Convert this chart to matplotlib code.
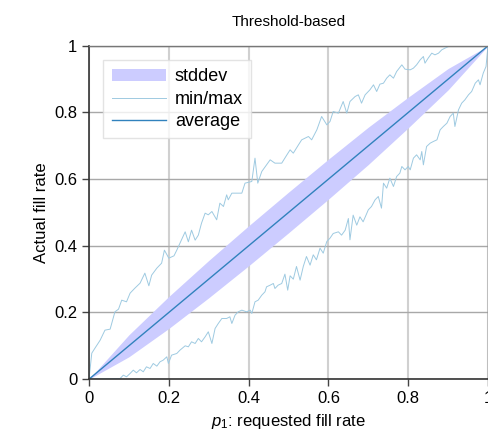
import numpy as np
import matplotlib.pyplot as plt

plt.rcParams['font.family'] = ['Liberation Sans', 'DejaVu Sans']
plt.rcParams['mathtext.fontset'] = 'custom'
plt.rcParams['mathtext.it'] = 'Liberation Sans:italic'
plt.rcParams['mathtext.rm'] = 'Liberation Sans'

# max curve
max_x = [0, 0.007, 0.015, 0.028, 0.04, 0.053, 0.065, 0.074, 0.082, 0.094, 0.103, 0.115,
         0.128, 0.14, 0.15, 0.157, 0.17, 0.182, 0.189, 0.2, 0.213, 0.22, 0.241, 0.249,
         0.257, 0.266, 0.274, 0.282, 0.291, 0.299, 0.308, 0.32, 0.328, 0.337, 0.345,
         0.349, 0.358, 0.383, 0.391, 0.408, 0.416, 0.423, 0.433, 0.454, 0.466, 0.483,
         0.496, 0.504, 0.512, 0.525, 0.533, 0.55, 0.558, 0.571, 0.583, 0.596, 0.604,
         0.612, 0.625, 0.637, 0.646, 0.654, 0.667, 0.675, 0.683, 0.692, 0.704, 0.713,
         0.721, 0.729, 0.738, 0.746, 0.754, 0.763, 0.771, 0.784, 0.792, 0.805, 0.813,
         0.821, 0.83, 0.838, 0.842, 0.85, 0.859, 0.867, 0.876, 0.884, 0.892, 0.905, 1.0]
max_y = [0, 0.078, 0.093, 0.117, 0.147, 0.15, 0.202, 0.21, 0.237, 0.232, 0.258, 0.273,
         0.288, 0.318, 0.28, 0.312, 0.333, 0.348, 0.387, 0.363, 0.37, 0.387, 0.442, 0.412,
         0.447, 0.417, 0.432, 0.468, 0.498, 0.493, 0.503, 0.478, 0.528, 0.518, 0.553,
         0.538, 0.558, 0.558, 0.588, 0.593, 0.663, 0.588, 0.623, 0.658, 0.648, 0.648,
         0.673, 0.688, 0.678, 0.703, 0.718, 0.728, 0.718, 0.748, 0.788, 0.763, 0.773,
         0.803, 0.798, 0.833, 0.798, 0.833, 0.848, 0.853, 0.828, 0.853, 0.868, 0.883,
         0.863, 0.885, 0.888, 0.903, 0.913, 0.903, 0.923, 0.943, 0.93, 0.928, 0.933,
         0.943, 0.958, 0.968, 0.948, 0.963, 0.978, 0.973, 0.978, 0.988, 0.993, 1.0, 1.0]

# min curve
min_x = [0, 0.078, 0.086, 0.094, 0.103, 0.111, 0.119, 0.128, 0.136, 0.144, 0.153, 0.161,
         0.17, 0.178, 0.186, 0.195, 0.199, 0.207, 0.22, 0.228, 0.241, 0.249, 0.257,
         0.266, 0.274, 0.282, 0.291, 0.299, 0.308, 0.316, 0.324, 0.333, 0.345, 0.353,
         0.358, 0.366, 0.374, 0.383, 0.395, 0.404, 0.408, 0.416, 0.424, 0.433, 0.441,
         0.445, 0.454, 0.462, 0.466, 0.474, 0.483, 0.491, 0.498, 0.504, 0.512, 0.52,
         0.529, 0.537, 0.545, 0.554, 0.562, 0.57, 0.579, 0.587, 0.596, 0.604, 0.612,
         0.625, 0.633, 0.642, 0.65, 0.654, 0.662, 0.671, 0.679, 0.687, 0.7, 0.708,
         0.717, 0.725, 0.733, 0.738, 0.746, 0.754, 0.763, 0.771, 0.779, 0.784, 0.792,
         0.8, 0.805, 0.813, 0.821, 0.83, 0.834, 0.838, 0.846, 0.855, 0.863, 0.872,
         0.88, 0.888, 0.897, 0.905, 0.913, 0.917, 0.926, 0.934, 0.942, 0.951, 0.959,
         0.968, 0.976, 0.98, 0.988, 0.995, 1.0]
min_y = [0, 0.002, 0.012, 0.007, 0.017, 0.027, 0.019, 0.029, 0.022, 0.037, 0.032, 0.047,
         0.039, 0.052, 0.057, 0.067, 0.047, 0.072, 0.077, 0.087, 0.1, 0.097, 0.112,
         0.107, 0.122, 0.112, 0.127, 0.142, 0.107, 0.152, 0.167, 0.182, 0.182, 0.187,
         0.167, 0.192, 0.202, 0.207, 0.202, 0.207, 0.197, 0.232, 0.237, 0.252, 0.262,
         0.277, 0.282, 0.287, 0.272, 0.282, 0.287, 0.315, 0.267, 0.31, 0.3, 0.338,
         0.297, 0.338, 0.368, 0.342, 0.373, 0.358, 0.393, 0.378, 0.413, 0.423, 0.437,
         0.442, 0.432, 0.447, 0.482, 0.418, 0.492, 0.462, 0.487, 0.472, 0.508, 0.518,
         0.538, 0.548, 0.513, 0.588, 0.573, 0.603, 0.578, 0.608, 0.618, 0.638, 0.628,
         0.638, 0.628, 0.663, 0.673, 0.658, 0.683, 0.643, 0.698, 0.708, 0.713, 0.718,
         0.748, 0.758, 0.768, 0.788, 0.798, 0.758, 0.808, 0.828, 0.838, 0.853, 0.863,
         0.888, 0.898, 0.883, 0.918, 0.938, 1.0]

# average and standard deviation
avg_x = [0, 0.1, 0.2, 0.3, 0.4, 0.5, 0.6, 0.7, 0.8, 0.9, 1.0]
avg_y = [0, 0.1, 0.2, 0.3, 0.4, 0.5, 0.6, 0.7, 0.8, 0.9, 1.0]
std = [0, 0.033, 0.048, 0.056, 0.06, 0.061, 0.06, 0.056, 0.046, 0.032, 0]

fig = plt.figure(figsize=(4.89, 4.45), dpi=100)
ax = fig.add_axes([0.182, 0.148, 0.816, 0.749])

avg = np.array(avg_y)
sd = np.array(std)
ax.fill_between(avg_x, avg - sd, avg + sd, color='#ccccff', linewidth=0, label='stddev')
ax.plot(max_x, max_y, color='#9ecae1', lw=0.7, label='min/max')
ax.plot(min_x, min_y, color='#9ecae1', lw=0.7)
ax.plot(avg_x, avg_y, color='#3182bd', lw=1.0, label='average')

ax.set_xlim(0, 1)
ax.set_ylim(0, 1)
ticks = [0, 0.2, 0.4, 0.6, 0.8, 1]
tick_labels = ['0', '0.2', '0.4', '0.6', '0.8', '1']
ax.set_xticks(ticks)
ax.set_xticklabels(tick_labels)
ax.set_yticks(ticks)
ax.set_yticklabels(tick_labels)
ax.tick_params(labelsize=12, direction='out', length=5, width=1, color='#444444')

ax.xaxis.grid(True, color='#d0d0d0', lw=1.5)
ax.yaxis.grid(True, color='#a8a8a8', lw=1.0)
ax.set_axisbelow(True)

for s in ['left', 'bottom']:
    ax.spines[s].set_color('#333333')
    ax.spines[s].set_linewidth(1.2)
for s in ['top', 'right']:
    ax.spines[s].set_color('#777777')
    ax.spines[s].set_linewidth(1.0)

ax.set_title('Threshold-based', fontsize=11, pad=14)
ax.set_xlabel('$p_1$: requested fill rate', fontsize=12)
ax.set_ylabel('Actual fill rate', fontsize=12)

ax.legend(loc='upper left', fontsize=13, fancybox=False, framealpha=0.8,
          edgecolor='#dddddd', borderaxespad=0.8, handlelength=3.0,
          labelspacing=0.3, borderpad=0.45, handletextpad=0.5)

fig.savefig('out.png', dpi=100)
